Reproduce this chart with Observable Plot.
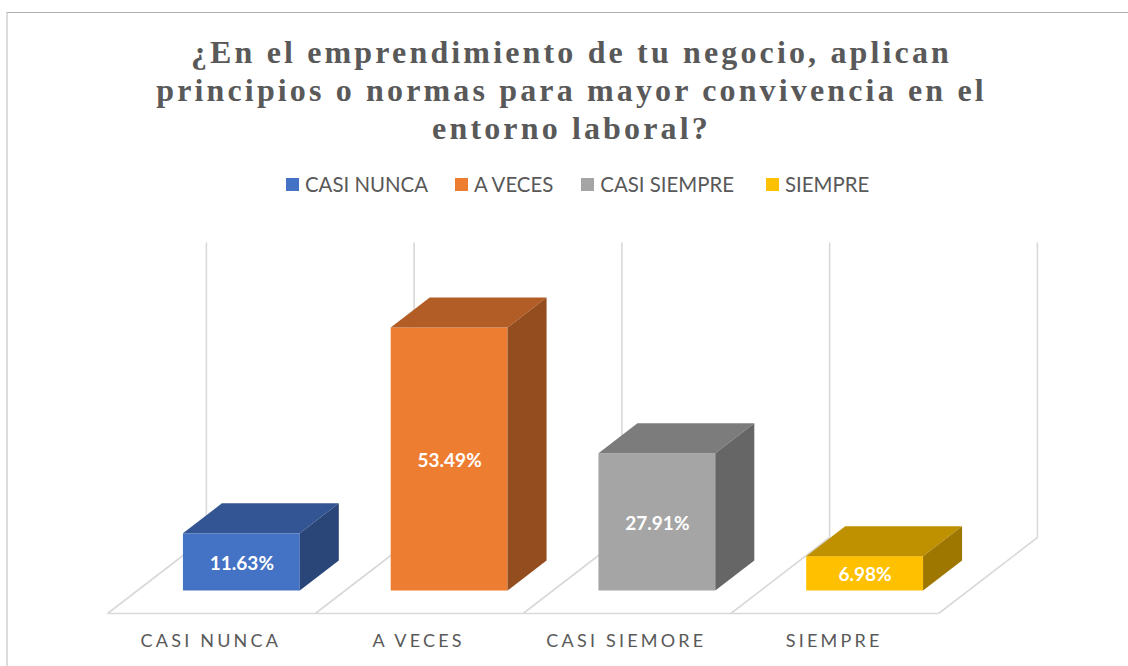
<!DOCTYPE html>
<html>
<head>
<meta charset="utf-8">
<script src="https://cdn.jsdelivr.net/npm/d3@7"></script>
<script src="https://cdn.jsdelivr.net/npm/@observablehq/plot@0.6"></script>
<style>
html,body{margin:0;padding:0;background:#fff;}
#page{position:relative;width:1128px;height:666px;overflow:hidden;}
#frame{position:absolute;left:6px;top:12px;right:-4px;bottom:-4px;border-top:1.5px solid #b0b0b0;border-left:2px solid #dcdcdc;}
#title{position:absolute;left:0;top:33px;width:1143px;text-align:center;font:bold 32px/38px "Liberation Serif",serif;letter-spacing:3.15px;color:#595959;}
#legend{position:absolute;left:286px;top:170px;height:28px;display:flex;align-items:center;font:20.4px "Lato",sans-serif;color:#595959;white-space:nowrap;}
#legend .item{display:flex;align-items:center;}
#legend .sw{width:13px;height:13px;margin-right:6px;}
#chart{position:absolute;left:0;top:225px;}
</style>
</head>
<body>
<div id="page">
  <div id="frame"></div>
  <div id="title"></div>
  <div id="legend"></div>
  <div id="chart"></div>
</div>
<script>
// Data
const titleLines = ["¿En el emprendimiento de tu negocio, aplican", "principios o normas para mayor convivencia en el", "entorno laboral?"];
const categories = ["CASI NUNCA", "A VECES", "CASI SIEMPRE", "SIEMPRE"];
const tickLabels = ["CASI NUNCA", "A VECES", "CASI SIEMORE", "SIEMPRE"];
const values = [11.63, 53.49, 27.91, 6.98];
const valueLabels = ["11.63%", "53.49%", "27.91%", "6.98%"];

// Styles
const frontColors = ["#4472c4", "#ed7d31", "#a5a5a5", "#ffc000"];
const topColors = ["#335593", "#b25d25", "#7c7c7c", "#bf9000"];
const sideColors = ["#2a4679", "#934d1f", "#666666", "#9e7700"];
const legendGaps = [27, 28, 32, 0];
const gridColor = "#d9d9d9";
const yMax = 60;
const slant = 1.3;       // horizontal shift per pixel of receding depth
const barDepth = 30, floorFront = -23, floorBack = 53;

document.getElementById("title").innerHTML = titleLines.join("<br>");
document.getElementById("legend").innerHTML = categories.map((c, i) =>
  `<div class="item" style="margin-right:${legendGaps[i]}px"><div class="sw" style="background:${frontColors[i]}"></div><span>${c}</span></div>`).join("");

const table = categories.map((category, i) => ({category, value: values[i], label: valueLabels[i], tick: tickLabels[i]}));
const svgNS = "http://www.w3.org/2000/svg";

// Floor and back wall of the 3D chart, derived from the x and y scales
function walls(index, {x, y}) {
  const g = document.createElementNS(svgNS, "g");
  const step = x.step(), left = x(categories[0]) - (step - x.bandwidth()) / 2;
  const sel = d3.select(g).attr("fill", "none").attr("stroke", gridColor).attr("stroke-width", 1.6);
  const y0 = y(0), yFront = y0 - floorFront, yBack = y0 - floorBack, yTop = y(yMax) - floorBack;
  d3.range(categories.length + 1).forEach(k => {
    const xk = left + k * step;
    sel.append("polyline").attr("points", [
      [xk + slant * floorFront, yFront], [xk + slant * floorBack, yBack], [xk + slant * floorBack, yTop]
    ].join(" "));
  });
  sel.append("line")
    .attr("x1", left + slant * floorFront).attr("x2", left + categories.length * step + slant * floorFront)
    .attr("y1", yFront).attr("y2", yFront);
  return g;
}

// Adds the top and side faces to each bar, from the same scales
function box3d(index, scales, channels, dims, ctx, next) {
  const g = next(index, scales, channels, dims, ctx);
  const {x, y} = scales, w = x.bandwidth(), dx = slant * barDepth, dy = barDepth;
  const sel = d3.select(g);
  index.forEach(i => {
    const x0 = x(table[i].category), x1 = x0 + w, yb = y(0), yt = y(table[i].value);
    sel.append("polygon").attr("fill", topColors[i]).attr("points",
      [[x0, yt], [x1, yt], [x1 + dx, yt - dy], [x0 + dx, yt - dy]].join(" "));
    sel.append("polygon").attr("fill", sideColors[i]).attr("points",
      [[x1, yt], [x1 + dx, yt - dy], [x1 + dx, yb - dy], [x1, yb]].join(" "));
  });
  return g;
}

function spaced(index, scales, channels, dims, ctx, next) {
  const g = next(index, scales, channels, dims, ctx);
  g.style.letterSpacing = "3.2px";
  return g;
}

const plot = Plot.plot({
  width: 1128,
  height: 441,
  marginLeft: 137.5,
  marginRight: 159.5,
  marginTop: 70.5,
  marginBottom: 75.5,
  style: {background: "transparent", fontFamily: "Lato, sans-serif", overflow: "visible"},
  x: {type: "band", domain: categories, round: false, paddingInner: 0.4375, paddingOuter: 0.21875, label: null},
  y: {domain: [0, yMax], label: null, axis: null},
  marks: [
    walls,
    Plot.barY(table, {x: "category", y: "value", fill: (d, i) => frontColors[i], render: box3d}),
    Plot.text(table, {
      x: "category", y: d => d.value / 2, text: "label", dy: 1.5,
      fill: "#fff", fontSize: 19, fontWeight: "bold", textAnchor: "middle"
    }),
    Plot.axisX({
      domain: categories, anchor: "bottom", label: null, tickSize: 0, tickPadding: 43.5, dx: -31,
      tickFormat: c => tickLabels[categories.indexOf(c)],
      fontSize: 18, fill: "#595959", render: spaced
    })
  ]
});
document.getElementById("chart").appendChild(plot);
</script>
</body>
</html>
